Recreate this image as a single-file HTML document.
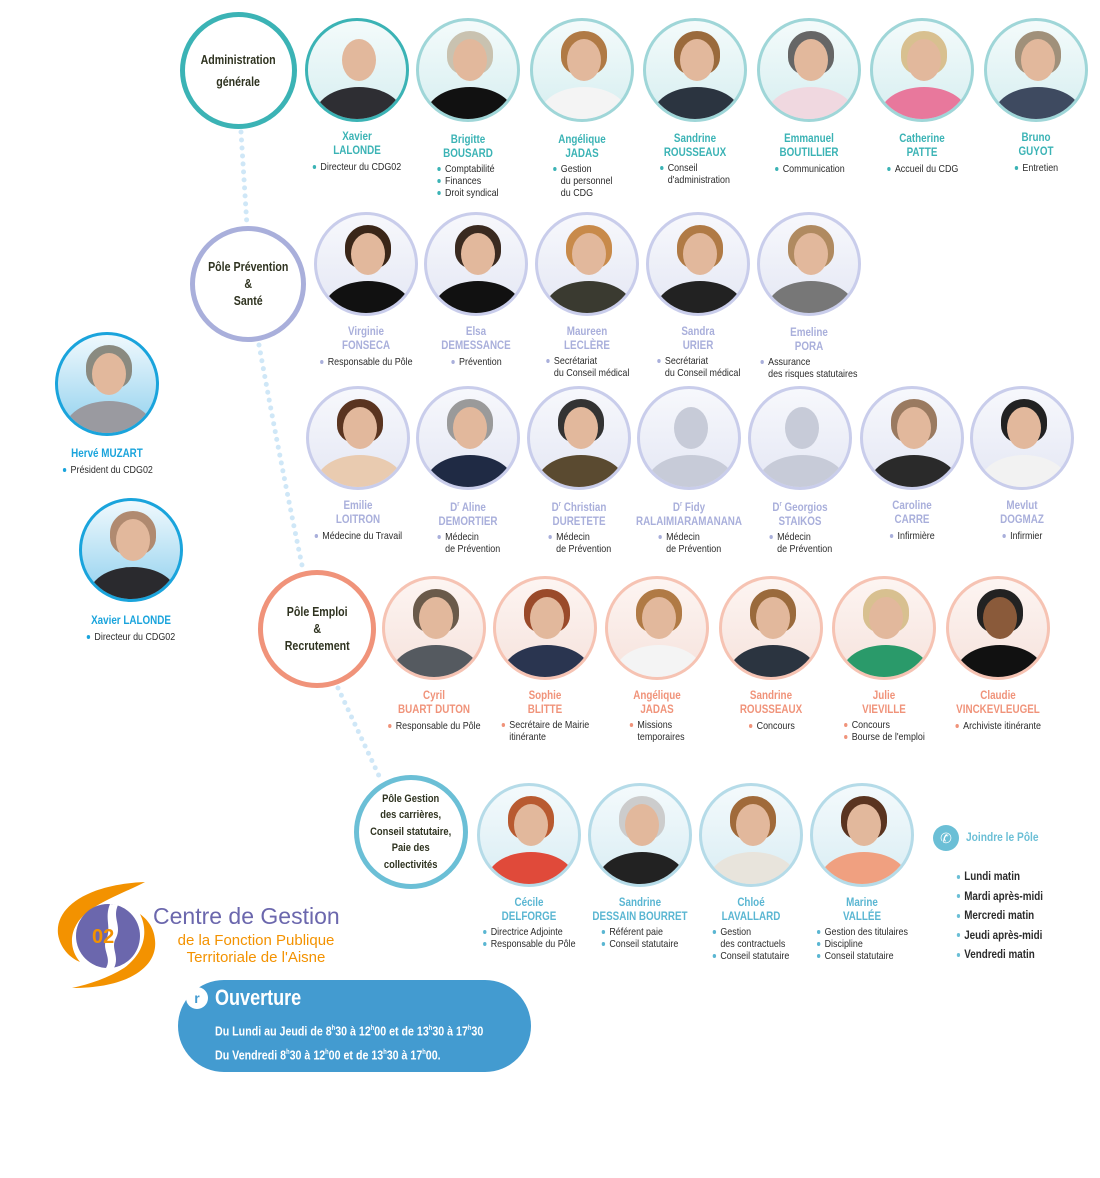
<!DOCTYPE html>
<html><head><meta charset="utf-8">
<style>
*{box-sizing:border-box;margin:0;padding:0}
body{width:1100px;height:1178px;background:#fff;position:relative;overflow:hidden;font-family:"Liberation Sans Narrow","Liberation Sans",sans-serif;color:#2b2b2b}
.p{position:absolute;width:150px;text-align:center}
.ph{width:104px;height:104px;border-radius:50%;border:3px solid #9fd6d8;margin:0 auto;position:relative;overflow:hidden;background:linear-gradient(#f4fbfb,#d6eef0)}
.ph .h{position:absolute;left:34px;top:18px;width:34px;height:42px;border-radius:50%;background:#e2b89c}
.ph .hr{position:absolute;left:28px;top:10px;width:46px;height:44px;border-radius:50% 50% 40% 40%;background:#8a5a3a}
.ph .b{position:absolute;left:6px;top:66px;width:90px;height:60px;border-radius:50% 50% 0 0;background:#2e2e33}
.ph.gr{background:linear-gradient(#eef0f6,#dfe3ee)}
.ph.gr .h{background:#c7cbd8}.ph.gr .b{background:#c7cbd8}
.n{font-weight:bold;font-size:12px;line-height:14px;margin-top:8px;transform:scaleX(.82);white-space:nowrap}
ul{display:inline-block;text-align:left;list-style:none;font-size:10.5px;line-height:12px;margin-top:3px;white-space:nowrap;transform:scaleX(.85);transform-origin:center top}
li{position:relative;padding-left:10px}
li:not(.c)::before{content:"";position:absolute;left:1px;top:calc(50% - 2px);width:4px;height:4px;border-radius:50%;background:var(--c)}
.A{--c:#3bb3b5}.A .n{color:#3bb3b5}.A .ph{border-color:#9fd6d8}
.P{--c:#a9afdb}.P .n{color:#a9afdb}.P .ph{border-color:#c9cdeb;background:linear-gradient(#f7f8fc,#e4e7f4)}
.E{--c:#f0937a}.E .n{color:#f0937a}.E .ph{border-color:#f6c3b3;background:linear-gradient(#fdf5f2,#f6e2dc)}
.C{--c:#5ab6d2}.C .n{color:#5ab6d2}.C .ph{border-color:#b5dbe8;background:linear-gradient(#f4fafc,#d9edf4)}
.L{--c:#1aa4dc}.L .n{color:#1aa4dc}.L .ph{border-color:#1aa4dc;background:linear-gradient(#f0f9fd,#8fd0ee)}
.g{position:absolute;border-radius:50%;background:#fff;border:5px solid;display:flex;align-items:center;justify-content:center;text-align:center;font-weight:bold;font-size:12.5px;line-height:17px;color:#2f3320}
.g span{transform:scaleX(.85);white-space:nowrap}
</style></head><body>

<svg width="1100" height="1178" style="position:absolute;left:0;top:0">
<g stroke="#cfe7f7" stroke-width="5" stroke-linecap="round" stroke-dasharray="0 8" fill="none">
<path d="M241 132 L247 226"/>
<path d="M259 345 Q280 460 303 570"/>
<path d="M338 688 L380 778"/>
</g>
</svg>

<div class="g" style="left:180px;top:12px;width:117px;height:117px;border-color:#3bb3b5"><span style="line-height:22px">Administration<br>générale</span></div>
<div class="g" style="left:190px;top:226px;width:116px;height:116px;border-color:#a9afdb"><span>Pôle Prévention<br>&amp;<br>Santé</span></div>
<div class="g" style="left:258px;top:570px;width:118px;height:118px;border-color:#f0937a"><span>Pôle Emploi<br>&amp;<br>Recrutement</span></div>
<div class="g" style="left:354px;top:775px;width:114px;height:114px;border-color:#6bbfd6;font-size:11px;line-height:16.5px"><span>Pôle Gestion<br>des carrières,<br>Conseil statutaire,<br>Paie des<br>collectivités</span></div>

<!-- Row 1 -->
<div class="p A" style="left:282px;top:18px"><div class="ph" style="border-color:#3bb3b5"><i class="h"></i><i class="b"></i></div><div class="n" style="margin-top:7px">Xavier<br>LALONDE</div><ul><li>Directeur du CDG02</li></ul></div>
<div class="p A" style="left:393px;top:18px"><div class="ph"><i class="hr" style="background:#c9c2b0"></i><i class="h"></i><i class="b" style="background:#111"></i></div><div class="n" style="margin-top:10px">Brigitte<br>BOUSARD</div><ul><li>Comptabilité</li><li>Finances</li><li>Droit syndical</li></ul></div>
<div class="p A" style="left:507px;top:18px"><div class="ph"><i class="hr" style="background:#b07a45"></i><i class="h"></i><i class="b" style="background:#f4f4f4"></i></div><div class="n" style="margin-top:10px">Angélique<br>JADAS</div><ul><li>Gestion</li><li class="c">du personnel</li><li class="c">du CDG</li></ul></div>
<div class="p A" style="left:620px;top:18px"><div class="ph"><i class="hr" style="background:#9a6a3c"></i><i class="h"></i><i class="b" style="background:#2b3440"></i></div><div class="n" style="margin-top:9px">Sandrine<br>ROUSSEAUX</div><ul><li>Conseil</li><li class="c">d'administration</li></ul></div>
<div class="p A" style="left:734px;top:18px"><div class="ph"><i class="hr" style="background:#666"></i><i class="h"></i><i class="b" style="background:#f0d8e0"></i></div><div class="n" style="margin-top:9px">Emmanuel<br>BOUTILLIER</div><ul><li>Communication</li></ul></div>
<div class="p A" style="left:847px;top:18px"><div class="ph"><i class="hr" style="background:#d8c090"></i><i class="h"></i><i class="b" style="background:#e8789c"></i></div><div class="n" style="margin-top:9px">Catherine<br>PATTE</div><ul><li>Accueil du CDG</li></ul></div>
<div class="p A" style="left:961px;top:18px"><div class="ph"><i class="hr" style="background:#a0907a"></i><i class="h"></i><i class="b" style="background:#3e4a60"></i></div><div class="n" style="margin-top:8px">Bruno<br>GUYOT</div><ul><li>Entretien</li></ul></div>

<!-- Row 2 -->
<div class="p P" style="left:291px;top:212px"><div class="ph"><i class="hr" style="background:#3a2618"></i><i class="h"></i><i class="b" style="background:#111"></i></div><div class="n">Virginie<br>FONSECA</div><ul><li>Responsable du Pôle</li></ul></div>
<div class="p P" style="left:401px;top:212px"><div class="ph"><i class="hr" style="background:#3a2a20"></i><i class="h"></i><i class="b" style="background:#111"></i></div><div class="n">Elsa<br>DEMESSANCE</div><ul><li>Prévention</li></ul></div>
<div class="p P" style="left:512px;top:212px"><div class="ph"><i class="hr" style="background:#c88a4a"></i><i class="h"></i><i class="b" style="background:#3a3a30"></i></div><div class="n">Maureen<br>LECLÈRE</div><ul><li>Secrétariat</li><li class="c">du Conseil médical</li></ul></div>
<div class="p P" style="left:623px;top:212px"><div class="ph"><i class="hr" style="background:#b07a45"></i><i class="h"></i><i class="b" style="background:#222"></i></div><div class="n">Sandra<br>URIER</div><ul><li>Secrétariat</li><li class="c">du Conseil médical</li></ul></div>
<div class="p P" style="left:734px;top:212px"><div class="ph"><i class="hr" style="background:#b08a60"></i><i class="h"></i><i class="b" style="background:#777"></i></div><div class="n" style="margin-top:9px">Emeline<br>PORA</div><ul><li>Assurance</li><li class="c">des risques statutaires</li></ul></div>

<!-- Row 3 -->
<div class="p P" style="left:283px;top:386px"><div class="ph"><i class="hr" style="background:#5a3420"></i><i class="h"></i><i class="b" style="background:#e9cbb0"></i></div><div class="n">Emilie<br>LOITRON</div><ul><li>Médecine du Travail</li></ul></div>
<div class="p P" style="left:393px;top:386px"><div class="ph"><i class="hr" style="background:#9a9a9a"></i><i class="h"></i><i class="b" style="background:#1f2a44"></i></div><div class="n">D<sup style="font-size:7px">r</sup> Aline<br>DEMORTIER</div><ul><li>Médecin</li><li class="c">de Prévention</li></ul></div>
<div class="p P" style="left:504px;top:386px"><div class="ph"><i class="hr" style="background:#333"></i><i class="h"></i><i class="b" style="background:#5a4a30"></i></div><div class="n">D<sup style="font-size:7px">r</sup> Christian<br>DURETETE</div><ul><li>Médecin</li><li class="c">de Prévention</li></ul></div>
<div class="p P" style="left:614px;top:386px"><div class="ph gr"><i class="h"></i><i class="b"></i></div><div class="n">D<sup style="font-size:7px">r</sup> Fidy<br>RALAIMIARAMANANA</div><ul><li>Médecin</li><li class="c">de Prévention</li></ul></div>
<div class="p P" style="left:725px;top:386px"><div class="ph gr"><i class="h"></i><i class="b"></i></div><div class="n">D<sup style="font-size:7px">r</sup> Georgios<br>STAIKOS</div><ul><li>Médecin</li><li class="c">de Prévention</li></ul></div>
<div class="p P" style="left:837px;top:386px"><div class="ph"><i class="hr" style="background:#9a7a60"></i><i class="h"></i><i class="b" style="background:#2a2a2a"></i></div><div class="n">Caroline<br>CARRE</div><ul><li>Infirmière</li></ul></div>
<div class="p P" style="left:947px;top:386px"><div class="ph"><i class="hr" style="background:#222"></i><i class="h"></i><i class="b" style="background:#f2f2f2"></i></div><div class="n">Mevlut<br>DOGMAZ</div><ul><li>Infirmier</li></ul></div>

<!-- Row 4 -->
<div class="p E" style="left:359px;top:576px"><div class="ph"><i class="hr" style="background:#6a5a4a"></i><i class="h"></i><i class="b" style="background:#555a60"></i></div><div class="n">Cyril<br>BUART DUTON</div><ul><li>Responsable du Pôle</li></ul></div>
<div class="p E" style="left:470px;top:576px"><div class="ph"><i class="hr" style="background:#9a4a2a"></i><i class="h"></i><i class="b" style="background:#2a3550"></i></div><div class="n">Sophie<br>BLITTE</div><ul><li>Secrétaire de Mairie</li><li class="c">itinérante</li></ul></div>
<div class="p E" style="left:582px;top:576px"><div class="ph"><i class="hr" style="background:#b07a45"></i><i class="h"></i><i class="b" style="background:#f4f4f4"></i></div><div class="n">Angélique<br>JADAS</div><ul><li>Missions</li><li class="c">temporaires</li></ul></div>
<div class="p E" style="left:696px;top:576px"><div class="ph"><i class="hr" style="background:#9a6a3c"></i><i class="h"></i><i class="b" style="background:#2b3440"></i></div><div class="n">Sandrine<br>ROUSSEAUX</div><ul><li>Concours</li></ul></div>
<div class="p E" style="left:809px;top:576px"><div class="ph"><i class="hr" style="background:#d8c090"></i><i class="h"></i><i class="b" style="background:#2a9a6a"></i></div><div class="n">Julie<br>VIEVILLE</div><ul><li>Concours</li><li>Bourse de l'emploi</li></ul></div>
<div class="p E" style="left:923px;top:576px"><div class="ph"><i class="hr" style="background:#222"></i><i class="h" style="background:#8a5a3a"></i><i class="b" style="background:#111"></i></div><div class="n">Claudie<br>VINCKEVLEUGEL</div><ul><li>Archiviste itinérante</li></ul></div>

<!-- Row 5 -->
<div class="p C" style="left:454px;top:783px"><div class="ph"><i class="hr" style="background:#b85a30"></i><i class="h"></i><i class="b" style="background:#e04a3a"></i></div><div class="n">Cécile<br>DELFORGE</div><ul><li>Directrice Adjointe</li><li>Responsable du Pôle</li></ul></div>
<div class="p C" style="left:565px;top:783px"><div class="ph"><i class="hr" style="background:#ccc"></i><i class="h"></i><i class="b" style="background:#222"></i></div><div class="n">Sandrine<br>DESSAIN BOURRET</div><ul><li>Référent paie</li><li>Conseil statutaire</li></ul></div>
<div class="p C" style="left:676px;top:783px"><div class="ph"><i class="hr" style="background:#a06a3a"></i><i class="h"></i><i class="b" style="background:#e8e4dc"></i></div><div class="n">Chloé<br>LAVALLARD</div><ul><li>Gestion</li><li class="c">des contractuels</li><li>Conseil statutaire</li></ul></div>
<div class="p C" style="left:787px;top:783px"><div class="ph"><i class="hr" style="background:#5a3420"></i><i class="h"></i><i class="b" style="background:#f0a080"></i></div><div class="n">Marine<br>VALLÉE</div><ul><li>Gestion des titulaires</li><li>Discipline</li><li>Conseil statutaire</li></ul></div>

<!-- Left -->
<div class="p L" style="left:32px;top:332px"><div class="ph"><i class="hr" style="background:#8a8a80"></i><i class="h"></i><i class="b" style="background:#9a9aa0"></i></div><div class="n" style="margin-top:10px">Hervé MUZART</div><ul style="margin-top:2px"><li>Président du CDG02</li></ul></div>
<div class="p L" style="left:56px;top:498px"><div class="ph"><i class="hr" style="background:#b08a70"></i><i class="h"></i><i class="b" style="background:#2a2a2e"></i></div><div class="n" style="margin-top:11px">Xavier LALONDE</div><ul style="margin-top:2px"><li>Directeur du CDG02</li></ul></div>

<!-- Joindre -->
<div style="position:absolute;left:933px;top:825px;width:26px;height:26px;border-radius:50%;background:#6bbfd6;color:#fff;font-size:14px;line-height:26px;text-align:center">&#9990;</div>
<div style="position:absolute;left:966px;top:830px;font-weight:bold;font-size:12px;color:#6bbfd6;transform:scaleX(.85);transform-origin:left">Joindre le Pôle</div>
<ul style="position:absolute;left:956px;top:867px;font-size:12px;line-height:19.5px;font-weight:bold;--c:#6bbfd6;margin:0;transform:scaleX(.82);transform-origin:left top"><li>Lundi matin</li><li>Mardi après-midi</li><li>Mercredi matin</li><li>Jeudi après-midi</li><li>Vendredi matin</li></ul>

<!-- Logo -->
<svg style="position:absolute;left:50px;top:878px" width="120" height="116">
<path d="M95 4 C40 6 5 28 8 56 C10 70 20 80 30 84 C18 70 18 48 40 32 C58 20 80 12 95 4Z" fill="#f39200"/>
<path d="M22 110 C80 110 108 88 105 62 C104 50 98 42 90 36 C98 52 96 74 74 90 C58 100 40 106 22 110Z" fill="#f39200"/>
<circle cx="58" cy="58" r="32" fill="#6b67ad"/>
<path d="M60 26 C54 40 62 50 56 62 C52 72 62 80 56 90 L64 90 C70 78 60 70 66 60 C72 48 62 40 68 27Z" fill="#fff"/>
<text x="42" y="65" font-family="Liberation Sans" font-weight="bold" font-size="20" fill="#f39200">02</text>
</svg>
<div style="position:absolute;left:153px;top:903px;font-family:'Liberation Sans',sans-serif;font-size:23px;color:#6b67ad;line-height:26px">Centre de Gestion</div>
<div style="position:absolute;left:170px;top:932px;font-family:'Liberation Sans',sans-serif;font-size:15px;color:#f39200;line-height:17px;text-align:center;width:172px">de la Fonction Publique<br>Territoriale de l'Aisne</div>

<!-- Ouverture -->
<div style="position:absolute;left:178px;top:980px;width:353px;height:92px;border-radius:46px;background:#439bd0"></div>
<div style="position:absolute;left:186px;top:987px;width:22px;height:22px;border-radius:50%;background:#fff;color:#439bd0;font-size:14px;line-height:22px;text-align:center;font-weight:bold">r</div>
<div style="position:absolute;left:215px;top:985px;color:#fff;font-size:22px;font-weight:bold;line-height:26px;transform:scaleX(.82);transform-origin:left">Ouverture</div>
<div style="position:absolute;left:215px;top:1018px;color:#fff;font-size:13px;font-weight:bold;line-height:22px;white-space:nowrap;transform:scaleX(.82);transform-origin:left top">Du Lundi au Jeudi de 8<sup style="font-size:7px">h</sup>30 à 12<sup style="font-size:7px">h</sup>00 et de 13<sup style="font-size:7px">h</sup>30 à 17<sup style="font-size:7px">h</sup>30<br>Du Vendredi 8<sup style="font-size:7px">h</sup>30 à 12<sup style="font-size:7px">h</sup>00 et de 13<sup style="font-size:7px">h</sup>30 à 17<sup style="font-size:7px">h</sup>00.</div>

</body></html>
